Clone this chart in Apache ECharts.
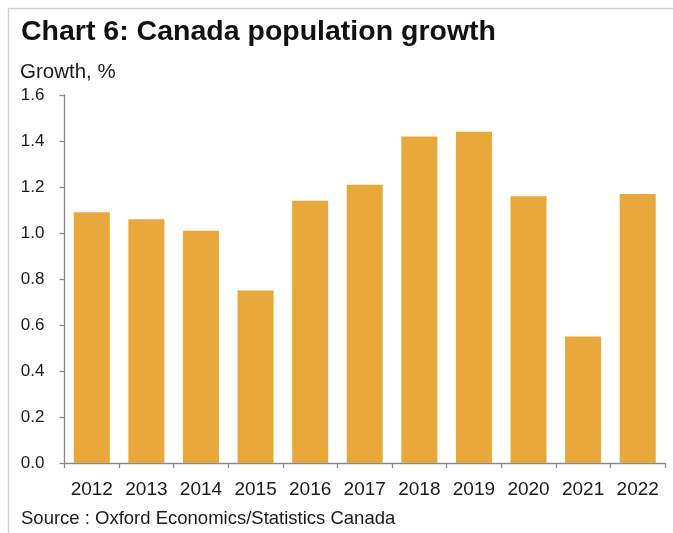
<!DOCTYPE html>
<html>
<head>
<meta charset="utf-8">
<script src="https://cdn.jsdelivr.net/npm/echarts@6/dist/echarts.min.js"></script>
<style>
  html, body { margin: 0; padding: 0; background: #fff; }
  #chart { width: 673px; height: 533px; }
</style>
</head>
<body>
<div id="chart"></div>
<script>
// Annual population growth, Canada (%)
const years = ['2012', '2013', '2014', '2015', '2016', '2017', '2018', '2019', '2020', '2021', '2022'];
const growth = [1.09, 1.06, 1.01, 0.75, 1.14, 1.21, 1.42, 1.44, 1.16, 0.55, 1.17];

const titleText = 'Chart 6: Canada population growth';
const unitText = 'Growth, %';
const sourceText = 'Source : Oxford Economics/Statistics Canada';

const FONT = '"Liberation Sans", Arial, sans-serif';
const chart = echarts.init(document.getElementById('chart'), null, { renderer: 'canvas' });

chart.setOption({
  animation: false,
  backgroundColor: '#ffffff',
  grid: { left: 64.5, right: 8, top: 95, bottom: 70, containLabel: false },
  xAxis: {
    type: 'category',
    data: years,
    boundaryGap: true,
    axisLine: { show: true, lineStyle: { color: '#8a8a8a', width: 1.3 } },
    axisTick: { show: true, alignWithLabel: false, length: 5, lineStyle: { color: '#8a8a8a', width: 1.3 } },
    axisLabel: { color: '#1a1a1a', fontFamily: FONT, fontSize: 19, margin: 17, interval: 0 }
  },
  yAxis: {
    type: 'value',
    min: 0,
    max: 1.6,
    interval: 0.2,
    axisLine: { show: true, lineStyle: { color: '#8a8a8a', width: 1.3 } },
    axisTick: { show: true, length: 5, lineStyle: { color: '#8a8a8a', width: 1.3 } },
    splitLine: { show: false },
    axisLabel: {
      color: '#1a1a1a', fontFamily: FONT, fontSize: 17, margin: 20,
      formatter: v => v.toFixed(1)
    }
  },
  series: [{
    type: 'bar',
    data: growth,
    barCategoryGap: '34%',
    itemStyle: { color: '#E8A83B' }
  }],
  graphic: [
    // thin frame lines along top and left
    { type: 'line', shape: { x1: 8, y1: 8.5, x2: 673, y2: 8.5 }, style: { stroke: '#d4d4d4', lineWidth: 1.5 }, silent: true },
    { type: 'line', shape: { x1: 8.5, y1: 8, x2: 8.5, y2: 533 }, style: { stroke: '#d4d4d4', lineWidth: 1.5 }, silent: true },
    { type: 'text', left: 21, top: 18, style: { text: titleText, fill: '#111', font: 'bold 28.5px ' + FONT } },
    { type: 'text', left: 20, top: 62, style: { text: unitText, fill: '#1a1a1a', font: '20.5px ' + FONT } },
    { type: 'text', left: 21, top: 509, style: { text: sourceText, fill: '#1a1a1a', font: '18.5px ' + FONT } }
  ]
});
</script>
</body>
</html>
